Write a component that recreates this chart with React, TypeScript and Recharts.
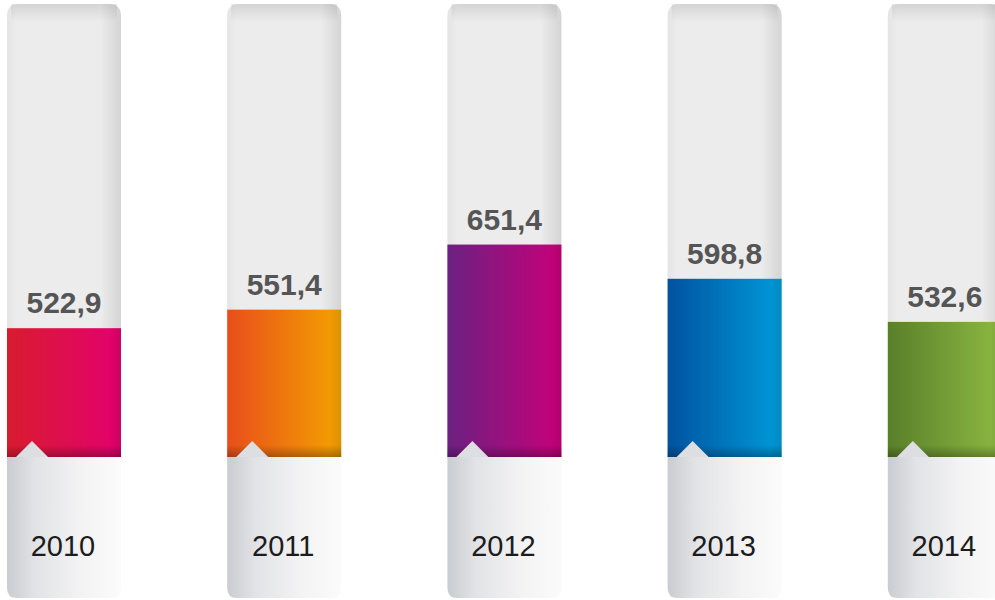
import { BarChart, Bar, XAxis, YAxis, LabelList } from "recharts";

const years = ["2010", "2011", "2012", "2013", "2014"];
const values = [522.9, 551.4, 651.4, 598.8, 532.6];

// left -> right gradient stops for each column
const barLeft = ["#d81c2f", "#e84e1b", "#6a2181", "#0152a0", "#5a7f2b"];
const barRight = ["#e4006f", "#f4a200", "#c9007a", "#009bda", "#8cb941"];

const data = years.map((year, i) => ({ year, value: values[i] }));

const BOTTOM = 143;
const fmt = (v: number) => v.toFixed(1).replace(".", ",");

function ColumnBg(props: any) {
  const { x, y, width, height, index } = props;
  const r = 12;
  const top = y;
  const base = y + height;
  const end = base + BOTTOM - 2;
  const id = `col-${index}`;
  return (
    <g>
      <defs>
        <linearGradient id={`${id}-h`} x1="0" y1="0" x2="1" y2="0">
          <stop offset="0%" stopColor="#e4e4e4" />
          <stop offset="8%" stopColor="#ececec" />
          <stop offset="82%" stopColor="#ececec" />
          <stop offset="100%" stopColor="#d4d4d4" />
        </linearGradient>
        <linearGradient id={`${id}-t`} x1="0" y1="0" x2="0" y2="1">
          <stop offset="0%" stopColor="#000" stopOpacity={0.1} />
          <stop offset="100%" stopColor="#000" stopOpacity={0} />
        </linearGradient>
        <linearGradient id={`${id}-b`} x1="0" y1="0" x2="1" y2="0">
          <stop offset="0%" stopColor="#c9ccd0" />
          <stop offset="25%" stopColor="#e2e3e6" />
          <stop offset="65%" stopColor="#f3f3f4" />
          <stop offset="100%" stopColor="#fbfbfb" />
        </linearGradient>
      </defs>
      <path
        d={`M${x},${base} L${x},${top + r} Q${x},${top} ${x + r},${top} L${x + width - r},${top} Q${x + width},${top} ${x + width},${top + r} L${x + width},${base} Z`}
        fill={`url(#${id}-h)`}
      />
      <rect x={x + 4} y={top} width={width - 8} height={18} fill={`url(#${id}-t)`} />
      <path
        d={`M${x},${base} L${x + width},${base} L${x + width},${end - 10} Q${x + width},${end} ${x + width - 10},${end} L${x + 10},${end} Q${x},${end} ${x},${end - 10} Z`}
        fill={`url(#${id}-b)`}
      />
    </g>
  );
}

function ColoredBar(props: any) {
  const { x, y, width, height, index } = props;
  const id = `bar-${index}`;
  const base = y + height;
  return (
    <g>
      <defs>
        <linearGradient id={`${id}-h`} x1="0" y1="0" x2="1" y2="0">
          <stop offset="0%" stopColor={barLeft[index]} />
          <stop offset="100%" stopColor={barRight[index]} />
        </linearGradient>
        <linearGradient id={`${id}-s`} x1="0" y1="0" x2="0" y2="1">
          <stop offset="0%" stopColor="#000" stopOpacity={0} />
          <stop offset="100%" stopColor="#000" stopOpacity={0.28} />
        </linearGradient>
        <linearGradient id={`${id}-e`} x1="0" y1="0" x2="1" y2="0">
          <stop offset="0%" stopColor="#000" stopOpacity={0} />
          <stop offset="100%" stopColor="#000" stopOpacity={0.1} />
        </linearGradient>
      </defs>
      <rect x={x} y={y} width={width} height={height} fill={`url(#${id}-h)`} />
      <rect x={x + width - 12} y={y} width={12} height={height} fill={`url(#${id}-e)`} />
      <rect x={x} y={base - 12} width={width} height={12} fill={`url(#${id}-s)`} />
      <polygon
        points={`${x + 9},${base} ${x + 25},${base - 16} ${x + 41},${base}`}
        fill="#dcdee1"
      />
    </g>
  );
}

function ValueLabel(props: any) {
  const vb = props.viewBox || props;
  const cx = vb.x + vb.width / 2;
  return (
    <text
      x={cx}
      y={vb.y - 15}
      textAnchor="middle"
      fontFamily="'Liberation Sans', Arial, sans-serif"
      fontWeight="bold"
      fontSize={30}
      fill="#555555"
    >
      {fmt(Number(props.value))}
    </text>
  );
}

function YearLabel(props: any) {
  const vb = props.viewBox || props;
  const cx = vb.x + vb.width / 2;
  return (
    <text
      x={cx - 1}
      y={vb.y + vb.height + 99}
      textAnchor="middle"
      fontFamily="'Liberation Sans', Arial, sans-serif"
      fontSize={29}
      fill="#1c1c1c"
    >
      {props.value}
    </text>
  );
}

export default function App() {
  return (
    <div
      style={{
        position: "absolute",
        left: 0,
        top: 0,
        width: 995,
        height: 600,
        overflow: "hidden",
        background: "#ffffff",
      }}
    >
      <div style={{ marginLeft: -46 }}>
        <BarChart
          width={1101}
          height={600}
          data={data}
          barSize={114}
          margin={{ top: 4, right: 0, bottom: BOTTOM, left: 0 }}
        >
          <XAxis dataKey="year" hide />
          <YAxis hide domain={[325, 1021]} allowDataOverflow />
          <Bar
            dataKey="value"
            isAnimationActive={false}
            background={(p: any) => <ColumnBg {...p} />}
            shape={(p: any) => <ColoredBar {...p} />}
          >
            <LabelList dataKey="value" content={(p: any) => <ValueLabel {...p} />} />
            <LabelList dataKey="year" content={(p: any) => <YearLabel {...p} />} />
          </Bar>
        </BarChart>
      </div>
    </div>
  );
}
